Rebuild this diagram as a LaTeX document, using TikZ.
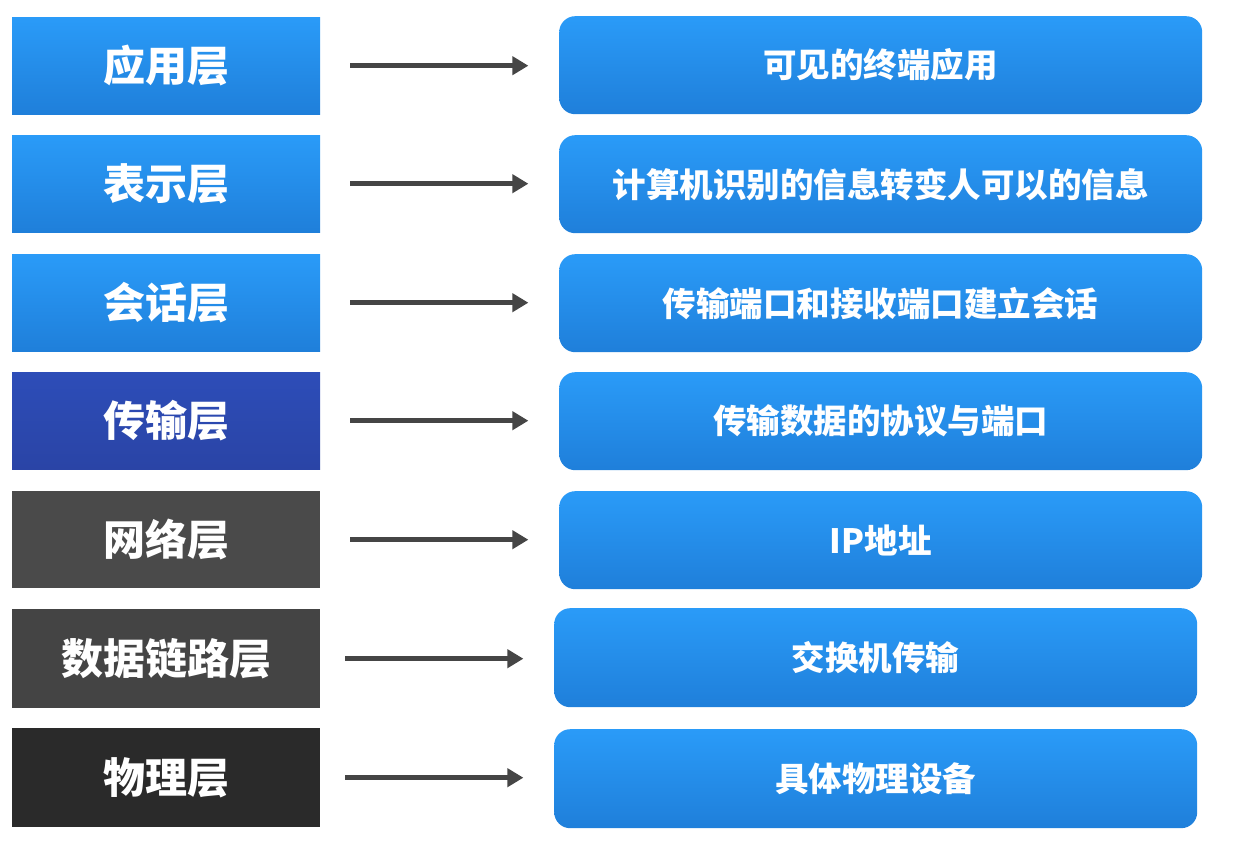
\documentclass[tikz,border=0pt]{standalone}
\usepackage{fontspec}
\setmainfont{Noto Sans CJK SC}
\usetikzlibrary{arrows.meta}
\definecolor{bluetop}{HTML}{2A9BF8}
\definecolor{bluebot}{HTML}{1F7FDA}
\definecolor{navytop}{HTML}{2D4DB8}
\definecolor{navybot}{HTML}{2A44A6}
\definecolor{grayA}{HTML}{4A4A4A}
\definecolor{grayB}{HTML}{444444}
\definecolor{grayC}{HTML}{2A2A2A}
\definecolor{arrowc}{HTML}{454545}
\tikzset{
  x=1pt, y=-1pt,
  layer/.style={rectangle, minimum width=308pt, minimum height=97pt, inner sep=0pt,
    text=white, font=\bfseries\fontsize{42}{44}\selectfont, anchor=north west},
  bluelayer/.style={layer, top color=bluetop, bottom color=bluebot},
  desc/.style={rectangle, rounded corners=16pt, minimum width=643pt, minimum height=98pt,
    inner sep=0pt, text=white, font=\bfseries\fontsize{33.5}{35}\selectfont, anchor=north west,
    top color=bluetop, bottom color=bluebot},
  conn/.style={draw=arrowc, line width=4.5pt, -{Triangle[length=16pt,width=18pt]}}
}
\begin{document}
\begin{tikzpicture}
\useasboundingbox (0,0) rectangle (1259,853);
% left layers
\node[bluelayer] (l1) at (12,17) {应用层};
\node[bluelayer] (l2) at (12,135) {表示层};
\node[bluelayer] (l3) at (12,254) {会话层};
\node[layer, top color=navytop, bottom color=navybot] (l4) at (12,372) {传输层};
\node[layer, fill=grayA] (l5) at (12,491) {网络层};
\node[layer, fill=grayB, minimum height=99pt] (l6) at (12,609) {数据链路层};
\node[layer, fill=grayC, minimum height=99pt] (l7) at (12,728) {物理层};
% right descriptions
\node[desc] (r1) at (559,16) {可见的终端应用};
\node[desc] (r2) at (559,135) {计算机识别的信息转变人可以的信息};
\node[desc] (r3) at (559,254) {传输端口和接收端口建立会话};
\node[desc] (r4) at (559,372) {传输数据的协议与端口};
\node[desc] (r5) at (559,491) {IP地址};
\node[desc, minimum height=99pt] (r6) at (554,608) {交换机传输};
\node[desc, minimum height=99pt] (r7) at (554,729) {具体物理设备};
% arrows
\foreach \i/\a/\b in {1/350/528,2/350/528,3/350/528,4/350/528,5/350/528,6/345/523,7/345/523}{
  \coordinate (s\i) at ([xshift=\a pt-320pt]l\i.east);
  \coordinate (e\i) at ([xshift=\b pt-320pt]l\i.east);
  \draw[conn] (s\i) -- (e\i);
}
\end{tikzpicture}
\end{document}
